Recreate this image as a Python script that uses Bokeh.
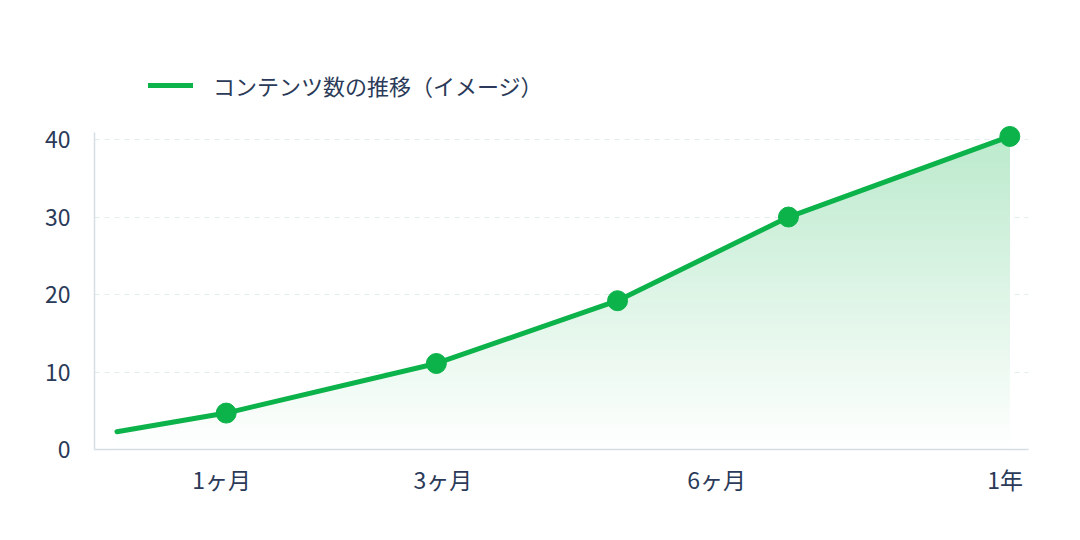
import numpy as np
from bokeh.plotting import figure
from bokeh.models import Range1d, FixedTicker, Legend, LegendItem
from bokeh.embed import file_html
from bokeh.resources import INLINE

# ---- data ----
series_name = "コンテンツ数の推移（イメージ）"
positions = [2.4, 14.1, 36.6, 56.0, 74.3, 98.0]      # horizontal position (0-100 scale)
contents = [2.3, 4.7, 11.1, 19.2, 30.0, 40.4]        # number of contents
marker_positions = positions[1:]
marker_values = contents[1:]
tick_positions = [13.6, 37.3, 66.6, 97.5]
tick_labels = ["1ヶ月", "3ヶ月", "6ヶ月", "1年"]
y_ticks = [0, 10, 20, 30, 40]
y_axis_top = 40.9

GREEN = "#0cb24a"
TEXT = "#2a3a58"
AXIS = "#d5dfe3"
FONT = "Noto Sans CJK JP"

p = figure(width=1080, height=540, output_backend="svg", toolbar_location=None,
           x_range=Range1d(0, 100), y_range=Range1d(0, 50.2),
           min_border_left=94, min_border_right=52, min_border_top=60, min_border_bottom=91)
p.outline_line_color = None
p.background_fill_color = "white"
p.border_fill_color = "white"

# ---- gradient fill under the line (stacked opaque bands) ----
xs = np.array(positions, dtype=float)
ys = np.array(contents, dtype=float)
n_bands = 60
top = ys.max()
levels = np.linspace(0, top, n_bands + 1)
cross_x = np.interp(levels, ys, xs)
X = np.unique(np.concatenate([xs, cross_x[(cross_x >= xs[0]) & (cross_x <= xs[-1])]]))
Y = np.interp(X, xs, ys)
g = np.array([12, 178, 74], dtype=float)
for k in range(n_bands):
    lo = levels[k]
    mid = (levels[k] + levels[k + 1]) / 2
    a = 0.28 * mid / y_axis_top
    c = 255 - a * (255 - g)
    col = "#%02x%02x%02x" % tuple(int(round(v)) for v in c)
    p.varea(x=X, y1=np.full_like(X, lo), y2=np.maximum(Y, lo), fill_color=col, fill_alpha=1.0)

line_r = p.line(positions, contents, line_width=5, color=GREEN, line_join="round", line_cap="round")
p.scatter(marker_positions, marker_values, size=20, color=GREEN)

# ---- axes ----
for ax in (p.xaxis[0], p.yaxis[0]):
    ax.axis_line_color = AXIS
    ax.axis_line_width = 1.5
    ax.major_tick_line_color = None
    ax.minor_tick_line_color = None
    ax.major_tick_out = 0
    ax.major_tick_in = 0
    ax.major_label_text_font = FONT
    ax.major_label_text_font_size = "23px"
    ax.major_label_text_color = TEXT

p.xaxis[0].ticker = FixedTicker(ticks=tick_positions)
p.xaxis[0].major_label_overrides = {t: l for t, l in zip(tick_positions, tick_labels)}
p.xaxis[0].major_label_standoff = 12
p.yaxis[0].ticker = FixedTicker(ticks=y_ticks)
p.yaxis[0].major_label_standoff = 24
p.yaxis[0].bounds = (0, y_axis_top)

p.xgrid.grid_line_color = None
p.ygrid.grid_line_color = "#e3ecec"
p.ygrid.grid_line_dash = "5 5"
p.ygrid.grid_line_width = 1

# ---- legend ----
legend = Legend(items=[LegendItem(label=series_name, renderers=[line_r])],
                location=(54, 348), padding=0, margin=0, spacing=0,
                border_line_alpha=0, background_fill_alpha=0,
                glyph_width=45, glyph_height=24, label_height=24, label_standoff=20,
                label_text_font=FONT, label_text_font_size="22px", label_text_color=TEXT)
p.add_layout(legend, "center")

open("out.html", "w").write(file_html(p, INLINE))
